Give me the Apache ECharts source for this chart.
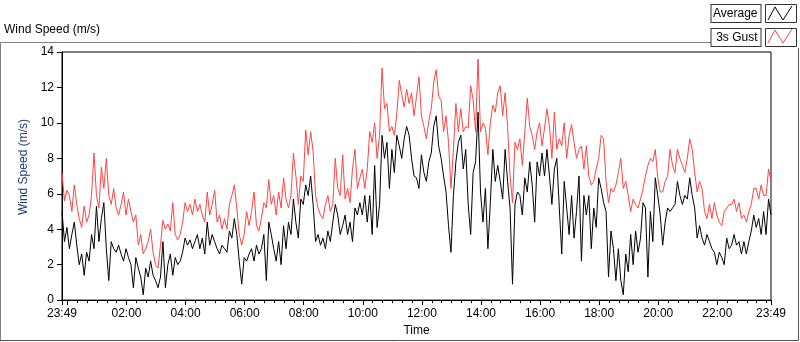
<!DOCTYPE html>
<html>
<head>
<meta charset="utf-8">
<script src="https://cdn.jsdelivr.net/npm/echarts@6/dist/echarts.min.js"></script>
<style>
  html, body { margin: 0; padding: 0; background: #fff; }
  #chart { width: 800px; height: 342px; }
</style>
</head>
<body>
<div id="chart"></div>
<script>
// one sample every 5 minutes, starting 23:49
const STEP_MIN = 5
const START_CLOCK = 23 * 60 + 49

// 3s gust (m/s)
const gust = [
  7.2, 5.6, 6.2, 5.9, 5.0, 6.5, 5.4, 4.6, 4.1, 5.3, 4.4, 4.8, 5.9, 8.3, 5.9, 5.2, 7.5, 6.3, 8.0, 5.9,
  5.4, 6.3, 5.2, 4.8, 5.4, 6.1, 4.8, 5.7, 5.0, 4.4, 4.8, 3.1, 3.7, 2.6, 2.9, 3.3, 4.0, 2.7, 2.0, 1.8,
  3.1, 4.5, 4.0, 4.3, 3.9, 5.5, 3.7, 3.4, 3.7, 4.4, 5.5, 5.0, 5.4, 4.8, 5.7, 5.0, 5.4, 4.8, 4.4, 6.1,
  4.8, 5.4, 6.2, 4.4, 4.8, 4.0, 4.6, 4.0, 5.4, 5.9, 6.5, 5.2, 3.7, 3.1, 3.7, 5.0, 4.2, 5.0, 6.1, 4.2,
  3.9, 4.6, 5.5, 5.2, 6.8, 5.4, 5.9, 4.8, 6.1, 5.2, 6.9, 5.7, 5.2, 5.9, 8.3, 7.0, 5.4, 7.0, 6.7, 9.6,
  8.2, 9.5, 8.4, 5.9, 5.2, 4.8, 4.6, 5.4, 5.9, 5.0, 5.4, 8.0, 6.3, 5.9, 8.2, 5.7, 6.3, 5.5, 7.4, 8.5,
  6.3, 6.9, 7.4, 6.3, 7.4, 9.5, 8.9, 10.0, 8.0, 9.3, 13.1, 10.8, 11.1, 9.5, 9.8, 9.3, 10.5, 12.4, 11.6, 10.9,
  11.9, 11.1, 11.7, 10.4, 11.5, 12.6, 10.4, 9.8, 9.1, 10.1, 10.8, 12.3, 13.0, 11.5, 11.3, 9.5, 10.4, 8.9, 6.3, 8.5,
  11.1, 9.5, 10.8, 9.5, 9.8, 9.7, 12.1, 11.3, 9.5, 13.6, 9.5, 10.0, 9.7, 8.2, 10.0, 11.0, 10.6, 11.7, 12.1, 10.4,
  11.7, 9.8, 7.0, 5.5, 8.9, 8.5, 9.1, 7.6, 9.5, 11.4, 9.8, 9.3, 8.5, 9.5, 10.0, 8.7, 9.7, 10.8, 9.8, 8.0,
  10.6, 8.5, 9.1, 8.7, 10.0, 8.0, 9.3, 9.9, 8.9, 8.0, 8.5, 8.7, 7.4, 8.7, 7.0, 6.5, 6.7, 7.4, 8.0, 9.3,
  9.1, 6.7, 5.5, 6.3, 6.1, 6.5, 7.2, 8.0, 6.3, 6.7, 5.9, 5.0, 5.7, 5.4, 5.2, 5.7, 6.3, 7.0, 7.6, 8.0,
  7.8, 8.5, 6.9, 6.1, 6.1, 6.7, 7.0, 8.5, 7.6, 7.2, 8.5, 8.0, 7.6, 7.2, 8.0, 9.1, 8.5, 7.2, 6.1, 6.7,
  6.3, 5.0, 4.6, 5.4, 4.6, 5.5, 4.8, 4.4, 4.2, 5.0, 5.2, 5.4, 5.4, 5.7, 5.0, 5.5, 4.6, 4.8, 4.4, 5.0,
  5.4, 6.3, 6.3, 5.7, 6.5, 5.9, 5.9, 7.4, 6.7
]

// average (m/s)
const average = [
  5.0, 3.3, 4.1, 2.9, 3.7, 4.4, 3.1, 2.0, 2.6, 1.4, 2.7, 2.2, 3.7, 2.9, 5.3, 3.3, 4.6, 5.5, 2.9, 1.1,
  3.3, 2.9, 2.7, 3.1, 2.6, 2.2, 2.9, 2.4, 2.0, 0.7, 2.4, 1.8, 1.3, 0.3, 1.8, 1.3, 2.2, 1.4, 1.1, 0.7,
  1.3, 3.3, 0.7, 2.0, 2.6, 1.4, 2.4, 2.0, 2.2, 2.7, 3.5, 3.1, 3.4, 2.9, 3.3, 3.7, 2.9, 3.5, 2.6, 4.4,
  3.1, 3.7, 3.3, 2.9, 2.6, 3.1, 2.9, 2.7, 3.9, 3.5, 4.6, 3.7, 2.2, 0.9, 2.4, 2.2, 2.6, 2.9, 2.2, 3.1,
  2.6, 2.9, 3.7, 1.1, 4.4, 3.7, 2.9, 2.2, 3.3, 2.0, 4.2, 2.9, 4.4, 3.7, 5.7, 4.4, 3.5, 5.7, 5.4, 6.5,
  5.9, 7.0, 5.4, 3.3, 3.7, 3.1, 3.5, 2.9, 3.9, 3.3, 4.4, 5.4, 4.8, 3.7, 4.2, 4.8, 3.7, 4.4, 3.3, 5.2,
  4.8, 5.5, 4.8, 5.9, 4.4, 5.9, 3.7, 7.6, 4.1, 5.4, 9.3, 8.0, 8.9, 6.3, 8.5, 7.2, 9.3, 8.7, 8.0, 9.1,
  9.8, 9.3, 8.0, 7.0, 6.9, 6.3, 8.2, 7.2, 6.7, 7.8, 8.3, 9.8, 10.4, 8.7, 8.0, 7.0, 6.1, 4.2, 2.7, 5.9,
  7.8, 8.9, 9.3, 7.4, 8.5, 5.4, 3.7, 7.2, 7.8, 10.6, 6.1, 4.4, 6.3, 2.9, 5.5, 8.5, 6.7, 7.6, 6.7, 5.7,
  8.5, 6.7, 5.2, 0.9, 5.4, 6.1, 5.9, 4.8, 6.9, 6.1, 7.8, 6.5, 4.4, 7.8, 7.0, 8.3, 7.0, 8.5, 7.0, 5.4,
  7.4, 8.0, 5.2, 2.6, 6.7, 5.2, 3.7, 5.9, 3.5, 5.0, 7.0, 2.2, 5.9, 4.8, 5.9, 2.9, 5.2, 4.1, 6.9, 6.3,
  5.5, 5.0, 1.3, 3.9, 2.9, 1.1, 2.9, 1.1, 0.3, 2.6, 1.6, 3.7, 2.0, 3.9, 2.7, 3.5, 5.5, 5.2, 1.3, 5.0,
  3.3, 6.9, 5.9, 4.8, 3.1, 4.4, 5.2, 5.0, 5.2, 5.4, 6.7, 5.9, 5.4, 5.9, 5.7, 6.9, 5.9, 5.2, 3.5, 4.2,
  3.5, 3.1, 3.7, 3.3, 2.9, 2.7, 2.0, 2.7, 2.4, 2.0, 3.5, 2.9, 3.1, 3.7, 3.1, 3.3, 2.6, 3.3, 2.6, 3.3,
  3.9, 4.8, 4.1, 4.6, 3.7, 5.0, 3.7, 5.7, 4.8
]

// x axis marks, in minutes after 23:49
const labelTicks = [0, 131, 251, 371, 491, 611, 731, 851, 971, 1091, 1211, 1331, 1440]
const majorTicks = [0, 11].concat(labelTicks.slice(1))
const minorTicks = []
for (let m = 11; m < 1440; m += 20) {
  if (majorTicks.indexOf(m) < 0) minorTicks.push(m)
}

const FONT = 'Liberation Sans'

function clock (v) {
  const t = (Math.round(v) + START_CLOCK) % 1440
  const h = Math.floor(t / 60)
  const m = t % 60
  return (h < 10 ? '0' : '') + h + ':' + (m < 10 ? '0' : '') + m
}

function toPairs (arr) {
  return arr.map((v, i) => [i * STEP_MIN, v])
}

const chart = echarts.init(document.getElementById('chart'))
const option = {
  animation: false,
  backgroundColor: '#fff',
  textStyle: { fontFamily: FONT },
  title: {
    text: 'Wind Speed (m/s)',
    left: 4,
    top: 24,
    padding: 0,
    textStyle: { fontFamily: FONT, fontSize: 12, fontWeight: 'normal', color: '#000' }
  },
  legend: {
    data: ['Average', '3s Gust'],
    orient: 'vertical',
    right: 3,
    top: 4,
    padding: 0,
    align: 'right',
    itemGap: 5,
    itemWidth: 31,
    itemHeight: 18,
    icon: 'rect',
    selectedMode: false,
    itemStyle: { color: '#fff', borderColor: '#333', borderWidth: 1 },
    textStyle: {
      fontFamily: FONT,
      fontSize: 12,
      color: '#000',
      backgroundColor: '#fff',
      borderColor: '#333',
      borderWidth: 1,
      padding: [2, 3, 1, 2],
      width: 44,
      height: 14,
      lineHeight: 14
    }
  },
  graphic: [
    {
      type: 'polyline',
      z: -1,
      shape: { points: [[0.5, 341.5], [0.5, 42.5], [712, 42.5]] },
      style: { fill: 'none', stroke: '#808080', lineWidth: 1 }
    },
    {
      type: 'polyline',
      z: -1,
      shape: { points: [[0.5, 340.5], [798.5, 340.5], [798.5, 48]] },
      style: { fill: 'none', stroke: '#555', lineWidth: 1 }
    },
    {
      type: 'polyline',
      z: 100,
      shape: { points: [[768, 20], [775, 7], [783, 20], [792, 6]] },
      style: { fill: 'none', stroke: '#000', lineWidth: 1 }
    },
    {
      type: 'polyline',
      z: 100,
      shape: { points: [[768, 43], [775, 30], [783, 43], [792, 29]] },
      style: { fill: 'none', stroke: '#ff4444', lineWidth: 1 }
    }
  ],
  grid: {
    left: 62,
    top: 52,
    width: 709,
    height: 250,
    show: true,
    backgroundColor: '#fff',
    borderColor: '#000',
    borderWidth: 1
  },
  xAxis: [
    {
      type: 'value',
      min: 0,
      max: 1440,
      name: 'Time',
      nameLocation: 'middle',
      nameGap: 24,
      nameTextStyle: { fontFamily: FONT, fontSize: 12, color: '#000' },
      axisLine: { lineStyle: { color: '#000' } },
      axisTick: { customValues: majorTicks, length: 5, lineStyle: { color: '#000' } },
      axisLabel: {
        customValues: labelTicks,
        formatter: clock,
        margin: 8,
        fontFamily: FONT,
        fontSize: 12,
        color: '#000'
      },
      splitLine: { show: false }
    },
    {
      type: 'value',
      min: 0,
      max: 1440,
      position: 'bottom',
      axisLine: { show: false },
      axisTick: { customValues: minorTicks, length: 3, lineStyle: { color: '#000' } },
      axisLabel: { show: false },
      splitLine: { show: false }
    }
  ],
  yAxis: {
    type: 'value',
    min: 0,
    max: 14,
    interval: 2,
    name: 'Wind Speed (m/s)',
    nameLocation: 'middle',
    nameGap: 24,
    nameTextStyle: { fontFamily: FONT, fontSize: 12, color: '#1f3b73', padding: [0, 0, 0, 18] },
    axisLine: { show: true, lineStyle: { color: '#000' } },
    axisTick: { show: true, length: 5, lineStyle: { color: '#000' } },
    axisLabel: { margin: 8, fontFamily: FONT, fontSize: 12, color: '#000' },
    splitLine: { show: false }
  },
  series: [
    {
      name: '3s Gust',
      type: 'line',
      xAxisIndex: 0,
      data: toPairs(gust),
      showSymbol: false,
      color: '#ff4444',
      lineStyle: { width: 1, color: '#ff4444' }
    },
    {
      name: 'Average',
      type: 'line',
      xAxisIndex: 0,
      data: toPairs(average),
      showSymbol: false,
      color: '#000',
      lineStyle: { width: 1, color: '#000' }
    }
  ]
}
chart.setOption(option)
</script>
</body>
</html>
